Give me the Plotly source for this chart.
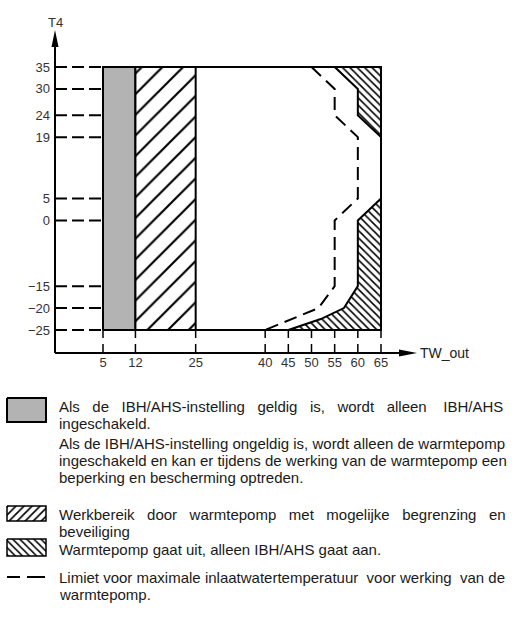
import plotly.graph_objects as go

# ---------------- data ----------------
t4_ticks = [-25, -20, -15, 0, 5, 19, 24, 30, 35]
tw_ticks = [5, 12, 25, 40, 45, 50, 55, 60, 65]
t4_low, t4_high = -25, 35
tw_ibh_band = [5, 12]            # IBH/AHS only (grey)
tw_hp_limited_band = [12, 25]    # heat pump with limitation (/ hatch)
tw_high = 65
off_top_tw = [55, 65, 65, 60, 60, 55]          # heat pump off (\ hatch), top
off_top_t4 = [35, 35, 19, 24, 30, 35]
off_bot_tw = [65, 65, 60, 60, 57, 52, 45, 65]  # heat pump off (\ hatch), bottom
off_bot_t4 = [-25, 5, 0, -15, -20, -22.5, -25, -25]
limit_tw = [50, 55, 55, 60, 60, 55, 55, 51.5, 40]   # max inlet water temp limit
limit_t4 = [35, 30, 24, 19, 5, 0, -15, -20, -25]

legend_texts = [
    "Als de IBH/AHS-instelling geldig is, wordt alleen IBH/AHS",
    "ingeschakeld.",
    "Als de IBH/AHS-instelling ongeldig is, wordt alleen de warmtepomp",
    "ingeschakeld en kan er tijdens de werking van de warmtepomp een",
    "beperking en bescherming optreden.",
    "Werkbereik door warmtepomp met mogelijke begrenzing en",
    "beveiliging",
    "Warmtepomp gaat uit, alleen IBH/AHS gaat aan.",
    "Limiet voor maximale inlaatwatertemperatuur voor werking van de",
    "warmtepomp.",
]
# extra word gaps (in spaces) used to imitate justified lines
legend_gaps = [[3, 3, 3, 3, 3, 3, 4], None, None, None, None,
               [3, 3, 3, 3, 3, 3], None, None, [1, 1, 1, 2, 1, 2, 1], None]

# ---------------- layout constants ----------------
W, H = 521, 628
XR = [-5.36, 72.77]
YR = [-30.25, 43.44]
PX_L, PX_R, PX_T, PX_B = 55, 417, 30, 353
LEG_TOP = 385
FONT = "Liberation Sans, Arial, sans-serif"


def px(x):
    return x / W


def py(y):
    return 1 - y / H


fig = go.Figure()

t4_box = [t4_low, t4_low, t4_high, t4_high, t4_low]


def band_x(b):
    return [b[0], b[1], b[1], b[0], b[0]]


# grey band
fig.add_trace(go.Scatter(x=band_x(tw_ibh_band), y=t4_box, mode="lines", fill="toself",
                         fillcolor="#b3b3b3", line=dict(color="black", width=2),
                         hoverinfo="skip", showlegend=False))
# "/" hatched band
fig.add_trace(go.Scatter(x=band_x(tw_hp_limited_band), y=t4_box, mode="lines", fill="toself",
                         fillcolor="white",
                         fillpattern=dict(shape="/", size=14.6, solidity=0.15,
                                          fgcolor="black", fgopacity=1, bgcolor="white"),
                         line=dict(color="black", width=2),
                         hoverinfo="skip", showlegend=False))
# "\" hatched regions
for xs, ys in [(off_top_tw, off_top_t4), (off_bot_tw, off_bot_t4)]:
    fig.add_trace(go.Scatter(x=xs, y=ys, mode="lines", fill="toself", fillcolor="white",
                             fillpattern=dict(shape="\\", size=5.2, solidity=0.3,
                                              fgcolor="black", fgopacity=1, bgcolor="white"),
                             line=dict(color="black", width=2),
                             hoverinfo="skip", showlegend=False))
# outer box
fig.add_trace(go.Scatter(x=[tw_ibh_band[0], tw_high, tw_high, tw_ibh_band[0], tw_ibh_band[0]],
                         y=t4_box, mode="lines", line=dict(color="black", width=2),
                         hoverinfo="skip", showlegend=False))
# dashed limit
fig.add_trace(go.Scatter(x=limit_tw, y=limit_t4, mode="lines",
                         line=dict(color="black", width=2, dash="13px,7px"),
                         hoverinfo="skip", showlegend=False))
# tick guide lines
gx, gy = [], []
for t in t4_ticks:
    gx += [XR[0], tw_ibh_band[0], None]
    gy += [t, t, None]
fig.add_trace(go.Scatter(x=gx, y=gy, mode="lines",
                         line=dict(color="black", width=2, dash="12px,5px"),
                         hoverinfo="skip", showlegend=False))
vx, vy = [], []
for v in tw_ticks:
    vx += [v, v, None]
    vy += [t4_low, YR[0], None]
fig.add_trace(go.Scatter(x=vx, y=vy, mode="lines",
                         line=dict(color="black", width=1.5, dash="8px,6px"),
                         hoverinfo="skip", showlegend=False))

# ---------------- legend icons (pixel axes x2/y2) ----------------
def rect(x0, x1, y0, y1):
    return [x0, x1, x1, x0, x0], [y0, y0, y1, y1, y0]


ix, iy = rect(7, 46, 398, 422)
fig.add_trace(go.Scatter(x=ix, y=iy, xaxis="x2", yaxis="y2", mode="lines", fill="toself",
                         fillcolor="#b3b3b3", line=dict(color="black", width=2),
                         hoverinfo="skip", showlegend=False))
ix, iy = rect(7, 46, 506, 521)
fig.add_trace(go.Scatter(x=ix, y=iy, xaxis="x2", yaxis="y2", mode="lines", fill="toself",
                         fillcolor="white",
                         fillpattern=dict(shape="/", size=5.7, solidity=0.3,
                                          fgcolor="black", fgopacity=1, bgcolor="white"),
                         line=dict(color="black", width=1.5),
                         hoverinfo="skip", showlegend=False))
ix, iy = rect(7, 46, 539, 556)
fig.add_trace(go.Scatter(x=ix, y=iy, xaxis="x2", yaxis="y2", mode="lines", fill="toself",
                         fillcolor="white",
                         fillpattern=dict(shape="\\", size=5, solidity=0.3,
                                          fgcolor="black", fgopacity=1, bgcolor="white"),
                         line=dict(color="black", width=1.5),
                         hoverinfo="skip", showlegend=False))
fig.add_trace(go.Scatter(x=[7, 20, None, 27, 45], y=[577, 577, None, 577, 577],
                         xaxis="x2", yaxis="y2", mode="lines",
                         line=dict(color="black", width=2),
                         hoverinfo="skip", showlegend=False))

# ---------------- legend texts ----------------
line_y = [406, 423, 443, 460, 477, 514, 531, 549, 577, 594]
annotations = []
for txt, gaps, yy in zip(legend_texts, legend_gaps, line_y):
    if gaps:
        words = txt.split(" ")
        out = words[0]
        for g, w in zip(gaps, words[1:]):
            out += "\u00a0" * g + w
        txt = out
    annotations.append(dict(x=57, y=yy, xref="x2", yref="y2", text=txt, showarrow=False,
                            xanchor="left", yanchor="middle",
                            font=dict(family=FONT, size=15, color="#1a1a1a")))

# axis titles
annotations.append(dict(x=px(PX_L), y=py(PX_T), xref="paper", yref="paper", text="T4",
                        showarrow=False, xanchor="center", yanchor="bottom", yshift=-2,
                        font=dict(family=FONT, size=13, color="#333")))
annotations.append(dict(x=px(PX_R), y=py(PX_B), xref="paper", yref="paper", text="TW_out",
                        showarrow=False, xanchor="left", yanchor="middle", xshift=1,
                        font=dict(family=FONT, size=14, color="#222")))

shapes = [
    # axis lines
    dict(type="line", xref="paper", yref="paper", x0=px(PX_L), x1=px(PX_R - 8),
         y0=py(PX_B), y1=py(PX_B), line=dict(color="black", width=2)),
    dict(type="line", xref="paper", yref="paper", x0=px(PX_L), x1=px(PX_L),
         y0=py(PX_B), y1=py(PX_T + 8), line=dict(color="black", width=2)),
    # arrowheads
    dict(type="path", xref="paper", yref="paper", xsizemode="pixel", ysizemode="pixel",
         xanchor=px(PX_R), yanchor=py(PX_B), path="M0,0 L-18,3.5 L-18,-3.5 Z",
         fillcolor="black", line=dict(width=0)),
    dict(type="path", xref="paper", yref="paper", xsizemode="pixel", ysizemode="pixel",
         xanchor=px(PX_L), yanchor=py(PX_T), path="M0,0 L-3.5,-17 L3.5,-17 Z",
         fillcolor="black", line=dict(width=0)),
]

fig.update_layout(
    width=W, height=H,
    margin=dict(l=0, r=0, t=0, b=0),
    paper_bgcolor="white", plot_bgcolor="rgba(0,0,0,0)",
    showlegend=False,
    annotations=annotations,
    shapes=shapes,
    xaxis=dict(domain=[px(PX_L), px(PX_R)], range=XR, tickvals=tw_ticks,
               showgrid=False, zeroline=False, showline=False, ticks="",
               tickfont=dict(family=FONT, size=13, color="#333"), fixedrange=True),
    yaxis=dict(domain=[py(PX_B), py(PX_T)], range=YR, tickvals=t4_ticks,
               showgrid=False, zeroline=False, showline=False, ticks="",
               ticklabelstandoff=4,
               tickfont=dict(family=FONT, size=13, color="#333"), fixedrange=True),
    xaxis2=dict(domain=[0, 1], range=[0, W], visible=False, anchor="y2", fixedrange=True),
    yaxis2=dict(domain=[0, py(LEG_TOP)], range=[H, LEG_TOP], visible=False, anchor="x2",
                fixedrange=True),
)

fig.write_html("out.html",
               config={"displayModeBar": False, "staticPlot": True},
               post_script="document.body.style.margin='0px';"
                           "document.body.style.overflow='hidden';")
